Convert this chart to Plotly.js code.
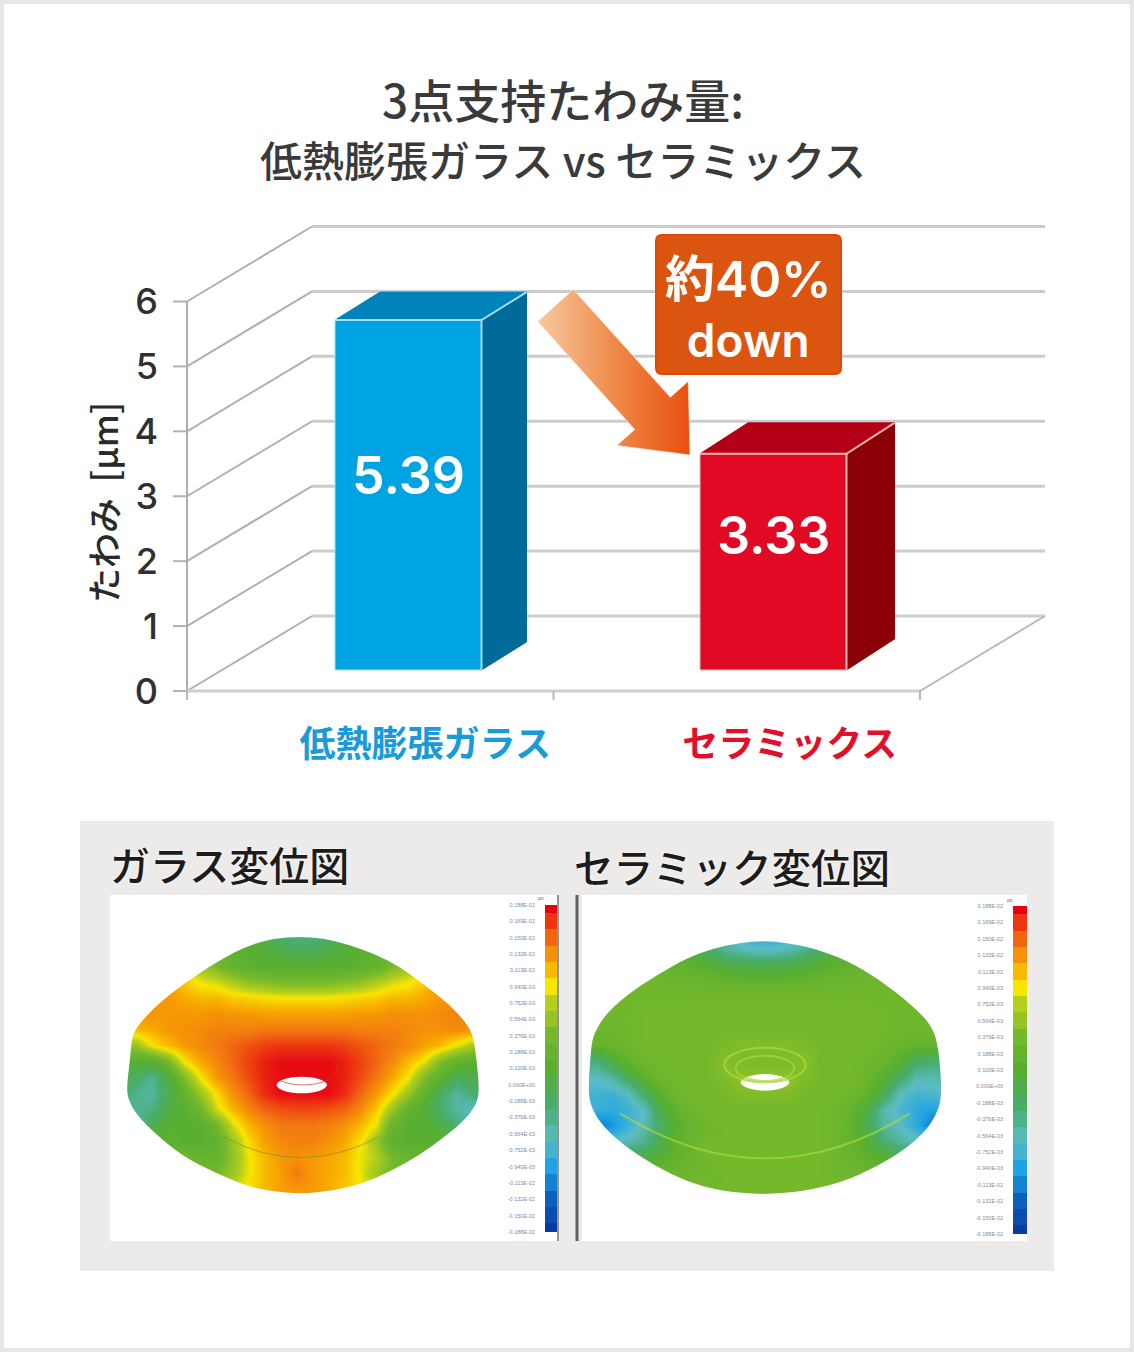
<!DOCTYPE html>
<html><head><meta charset="utf-8">
<script src="https://cdn.plot.ly/plotly-3.0.1.min.js"></script>
<style>html,body{margin:0;padding:0;background:#fff}#chart{width:1134px;height:1352px}</style>
</head><body><div id="chart"></div>
<script>
// ---------- chart data ----------
const titleLines = ['3点支持たわみ量:', '低熱膨張ガラス vs セラミックス'];
const categories = ['低熱膨張ガラス', 'セラミックス'];
const deflection = [5.39, 3.33];
const valueLabels = ['5.39', '3.33'];
const valueTicks = [0, 1, 2, 3, 4, 5, 6];
const yAxisTitle = 'たわみ\u00a0\u00a0[μm]';
const calloutText = '<span style="font-size:50px">約40%</span><br>down';
const mapTitles = ['ガラス変位図', 'セラミック変位図'];

// colour-key steps and their tiny labels (top to bottom)
const keySteps = [100,95,90,85,80,75,70,65,60,55,50,45,40,35,30,25,20,15,10,5,0];
const keyLabels = ['0.188E-02','0.169E-02','0.150E-02','0.132E-02','0.113E-02','0.940E-03','0.752E-03','0.564E-03','0.376E-03','0.188E-03','0.100E-03','0.000E+00','-0.188E-03','-0.376E-03','-0.564E-03','-0.752E-03','-0.940E-03','-0.113E-02','-0.132E-02','-0.150E-02','-0.188E-02'];

// displacement maps on a regular grid
const glassGridX = [120,168,216,264,312,360,408,456,504,552,600,648,696,744,792,840,888,936,984,1032,1080,1128,1176,1224];
const ceramicGridX = [60,108,156,204,252,300,348,396,444,492,540,588,636,684,732,780,828,876,924,972,1020,1068,1116,1164];
const mapGridY = [340,388,436,484,532,580,628,676,724,772,820,868,916,964,1012,1060,1108,1156];
const glassMap = [
[60,60,60,60,60,58,55,52,50,45,38,34,34,38,45,50,52,55,58,60,60,60,60,60],
[70,70,70,70,70,62,56,52,50,48,45,42,42,45,48,50,52,56,62,70,70,70,70,70],
[80,80,80,80,72,66,60,54,52,50,50,50,50,50,50,52,54,60,66,72,80,80,80,80],
[84,84,84,82,78,74,72,68,64,62,60,60,60,60,62,64,68,72,74,78,84,84,84,84],
[85,85,85,84,82,80,80,78,77,76,75,75,75,75,76,77,78,80,80,82,84,85,85,85],
[85,85,84,84,84,84,85,84,84,83,83,83,83,83,83,84,84,85,85,85,86,87,87,87],
[80,80,82,84,85,86,87,87,87,88,88,88,88,88,88,87,87,87,86,85,85,86,85,80],
[64,66,75,80,84,86,88,90,92,94,95,95,95,95,94,92,90,88,86,83,80,74,68,66],
[52,50,50,60,75,82,86,90,94,97,99,99,99,99,97,94,90,86,80,74,62,55,52,52],
[46,40,34,46,62,75,84,88,93,97,99,99,99,99,97,93,88,82,75,62,52,42,44,46],
[40,34,32,42,54,66,76,85,90,96,99,99,99,99,96,90,84,76,66,54,40,32,38,42],
[28,34,36,46,50,58,72,80,86,90,92,93,93,92,90,86,78,66,54,48,38,32,28,28],
[28,30,44,50,50,50,58,72,80,85,88,88,88,87,85,80,74,56,50,50,46,38,30,28],
[50,50,50,52,50,50,52,66,76,83,86,87,87,85,82,76,66,52,50,50,50,50,50,50],
[55,55,55,56,58,55,55,64,74,80,84,85,84,82,80,74,70,60,56,55,55,55,55,55],
[60,60,60,60,60,60,60,66,74,80,83,88,84,82,80,74,66,60,60,60,60,60,60,60],
[70,70,70,70,70,70,70,72,76,80,83,84,84,82,78,76,72,70,70,70,70,70,70,70],
[70,70,70,70,70,70,70,72,76,80,83,84,84,82,78,76,72,70,70,70,70,70,70,70]];
const ceramicMap = [
[50,50,50,50,50,48,45,42,36,30,24,21,21,24,30,36,42,45,48,50,50,50,50,50],
[55,55,55,55,55,52,50,46,40,34,30,28,28,30,34,40,46,50,52,55,55,55,55,55],
[58,58,58,58,58,56,54,52,50,47,45,44,44,45,47,50,52,54,56,58,58,58,58,58],
[58,58,58,58,58,58,57,57,56,55,54,54,54,54,55,56,57,57,58,58,58,58,58,58],
[58,58,58,59,59,59,59,59,59,59,59,59,59,59,59,59,59,59,59,59,58,58,58,58],
[58,58,59,59,60,60,60,60,60,60,60,60,60,60,60,60,60,60,60,59,59,58,58,58],
[58,58,58,59,60,60,60,60,60,60,60,60,60,60,60,60,60,60,60,59,58,58,58,58],
[56,54,56,58,60,60,60,60,60,61,62,62,62,62,61,60,60,60,60,58,56,54,54,54],
[36,36,46,54,58,60,60,60,60,63,61,61,61,61,63,60,60,60,58,56,50,40,38,38],
[30,28,32,42,52,58,60,60,60,62,64,64,64,64,62,60,60,60,56,50,40,30,30,32],
[26,25,24,28,40,52,58,60,60,60,62,62,62,62,60,60,60,58,54,42,28,25,26,28],
[24,24,22,24,28,44,54,58,60,60,60,60,60,60,60,60,58,54,44,30,26,22,20,24],
[12,12,18,24,30,40,50,56,58,60,60,60,60,60,60,60,58,52,42,32,28,22,14,12],
[30,30,28,30,34,44,52,56,60,60,60,60,60,60,60,60,58,54,48,38,32,30,30,30],
[46,46,46,46,46,50,54,56,60,60,60,60,60,60,60,60,58,56,52,50,46,46,46,46],
[56,56,56,56,56,56,57,58,58,60,60,60,60,60,60,60,58,58,57,56,56,56,56,56],
[60,60,60,60,60,60,60,60,60,60,60,60,60,60,60,60,60,60,60,60,60,60,60,60],
[60,60,60,60,60,60,60,60,60,60,60,60,60,60,60,60,60,60,60,60,60,60,60,60]];
// outlines of the discs and their holes, same grid units
const glassOutlineX = [660,580,500,420,350,280,220,175,156,150,140,145,170,230,310,400,490,560,660,760,850,930,1020,1100,1160,1190,1198,1190,1180,1160,1110,1040,960,880,800,730];
const glassOutlineY = [350,355,378,420,465,515,565,615,650,720,800,840,885,945,1010,1055,1095,1112,1122,1112,1090,1055,1005,945,895,850,810,720,650,610,555,500,440,400,372,355];
const glassHoleX = [583,610,665,720,748,720,665,610];
const glassHoleY = [795,776,768,776,795,814,822,814];
const ceramicOutlineX = [610,540,460,380,290,200,130,98,92,85,90,125,190,280,380,480,610,740,850,950,1040,1105,1140,1145,1135,1115,1050,960,860,760,680];
const ceramicOutlineY = [362,368,385,415,465,525,590,650,700,800,855,915,975,1035,1085,1112,1125,1112,1085,1040,985,925,860,800,680,615,550,480,420,385,368];
const ceramicHoleX = [535,562,615,668,695,668,615,562];
const ceramicHoleY = [787,768,760,768,787,806,814,806];

// ---------- styles ----------
const W = 1134, H = 1352;
const JP = '"Noto Sans CJK JP","Noto Sans",sans-serif';
const LAT = 'Inter,"Liberation Sans",Arial,sans-serif';
const barFront = ['#00a3e2', '#e10a25'];
const barTop = ['#0082ba', '#b30017'];
const barSide = ['#006b98', '#8a0006'];
const barEdge = ['#a8dcf2', '#f3b5ae'];
const rainbow = [[0,'#0a3a9c'],[0.1,'#0a60bc'],[0.2,'#1ea4e4'],[0.28,'#5cbcc4'],[0.38,'#48ad70'],[0.5,'#58af30'],[0.6,'#74b82c'],[0.7,'#b5cf1c'],[0.75,'#f8e600'],[0.82,'#f8a800'],[0.88,'#f27a10'],[0.94,'#ee4010'],[1,'#e60012']];

// ---------- oblique projection of the main chart ----------
const plotL = 173, plotR = 1055, plotT = 216, plotB = 700;
const x0Px = 187, x1Px = 920, y0Px = 691, y6Px = 301.5;
const unitX = (x1Px - x0Px) / 2, unitY = (y0Px - y6Px) / 6;
const dataX = p => (p - x0Px) / unitX - 0.5;
const dataY = p => (y0Px - p) / unitY;
const wallDX = 125 / unitX, wallDY = 75 / unitY;
const barShift = [38 / unitX, 36.5 / unitX], barWidth = 146.5 / unitX, barBase = 21 / unitY;
const topDX = [45 / unitX, 48 / unitX], topDY = [28 / unitY, 31 / unitY];
const catPos = categories.map((_, i) => i);

const fx = v => v / W, fy = v => 1 - v / H;
const traces = [];
const shapes = [];
const annotations = [];

function lineShape(xs, ys, color, width) {
  shapes.push({type:'path', xref:'x', yref:'y', layer:'below',
    path:'M' + xs.map((x, i) => x + ' ' + ys[i]).join(' L '),
    line:{color, width}, fillcolor:'rgba(0,0,0,0)'});
}
function paperRect(l, t, r, b, fill, layer) {
  shapes.push({type:'rect', xref:'paper', yref:'paper', x0:fx(l), x1:fx(r), y0:fy(b), y1:fy(t),
    fillcolor:fill, line:{width:0}, layer:layer || 'below'});
}
function paperLine(x, t, b, color, width) {
  shapes.push({type:'line', xref:'paper', yref:'paper', x0:fx(x), x1:fx(x), y0:fy(b), y1:fy(t),
    line:{color, width}, layer:'above'});
}

// page frame and lower panel
shapes.push({type:'rect', xref:'paper', yref:'paper', x0:fx(2), x1:fx(1132), y0:fy(1350), y1:fy(2),
  fillcolor:'rgba(0,0,0,0)', line:{color:'#e6e6e6', width:4}, layer:'below'});
paperRect(80, 821, 1054, 1271, '#ecebe9');
paperRect(110, 895, 557, 1241, '#ffffff');
paperRect(582, 895, 1027, 1241, '#ffffff');

// walls, grid and floor
valueTicks.forEach(v => {
  lineShape([dataX(plotL), -0.5], [v, v], '#b3b3b3', 2);
  lineShape([-0.5, -0.5 + wallDX], [v, v + wallDY], '#b0b0b0', 2);
  lineShape([-0.5 + wallDX, 1.5 + wallDX], [v + wallDY, v + wallDY], '#cccccc', 3);
});
lineShape([-0.5, -0.5], [dataY(plotB), 6], '#adadad', 2);
lineShape([-0.5, 1.5], [0, 0], '#cfcfcf', 3);
lineShape([1.5, 1.5 + wallDX], [0, wallDY], '#b8b8b8', 2);
[-0.5, 0.5, 1.5].forEach(x => lineShape([x, x], [0, dataY(plotB)], '#b8b8b8', 2));

// front faces of the bars, through the library's bar scale
traces.push({type:'bar', x:catPos.map((c, i) => c + barShift[i]), y:deflection, base:barBase, width:barWidth,
  marker:{color:barFront, line:{color:barEdge, width:1}}, hoverinfo:'skip', showlegend:false});

// top and side faces of the bars
deflection.forEach((v, i) => {
  const l = catPos[i] + barShift[i] - barWidth / 2, r = l + barWidth;
  const b = barBase, t = barBase + v, dx = topDX[i], dy = topDY[i];
  traces.push({type:'scatter', mode:'lines', x:[l, l + dx, r + dx, r, l], y:[t, t + dy, t + dy, t, t],
    fill:'toself', fillcolor:barTop[i], line:{color:barTop[i], width:1}, hoverinfo:'skip', showlegend:false});
  traces.push({type:'scatter', mode:'lines', x:[r, r + dx, r + dx, r, r], y:[t, t + dy, b + dy, b, t],
    fill:'toself', fillcolor:barSide[i], line:{color:barSide[i], width:1}, hoverinfo:'skip', showlegend:false});
  traces.push({type:'scatter', mode:'lines', x:[l, r, r + dx], y:[t, t, t + dy],
    line:{color:barEdge[i], width:2}, hoverinfo:'skip', showlegend:false});
  traces.push({type:'scatter', mode:'lines', x:[r, r], y:[t, b],
    line:{color:barEdge[i], width:2}, hoverinfo:'skip', showlegend:false});
});

// arrow from the first bar to the second
(function () {
  const tail = [555.5, 305.5], tip = [690, 455];
  const len = Math.hypot(tip[0] - tail[0], tip[1] - tail[1]);
  const ux = (tip[0] - tail[0]) / len, uy = (tip[1] - tail[1]) / len;
  const nx = uy, ny = -ux;
  const shaft = 24, head = 48, headLen = 56;
  const nb = [tip[0] - ux * headLen, tip[1] - uy * headLen];
  const pts = [
    [tail[0] + nx * shaft, tail[1] + ny * shaft],
    [nb[0] + nx * shaft, nb[1] + ny * shaft],
    [nb[0] + nx * head, nb[1] + ny * head],
    tip,
    [nb[0] - nx * head, nb[1] - ny * head],
    [nb[0] - nx * shaft, nb[1] - ny * shaft],
    [tail[0] - nx * shaft, tail[1] - ny * shaft],
    [tail[0] + nx * shaft, tail[1] + ny * shaft]];
  traces.push({type:'scatter', mode:'lines', x:pts.map(p => dataX(p[0])), y:pts.map(p => dataY(p[1])),
    fill:'toself', line:{color:'rgba(255,240,230,0.6)', width:1},
    fillgradient:{type:'horizontal', colorscale:[[0,'#f8c9a0'],[0.5,'#ef8a4a'],[1,'#e8500f']]},
    hoverinfo:'skip', showlegend:false});
})();

// callout box
(function () {
  const l = 656, r = 841, t = 235, b = 374, c = 6;
  shapes.push({type:'path', xref:'paper', yref:'paper', layer:'above',
    path:`M ${fx(l + c)} ${fy(t)} L ${fx(r - c)} ${fy(t)} Q ${fx(r)} ${fy(t)} ${fx(r)} ${fy(t + c)} L ${fx(r)} ${fy(b - c)} Q ${fx(r)} ${fy(b)} ${fx(r - c)} ${fy(b)} L ${fx(l + c)} ${fy(b)} Q ${fx(l)} ${fy(b)} ${fx(l)} ${fy(b - c)} L ${fx(l)} ${fy(t + c)} Q ${fx(l)} ${fy(t)} ${fx(l + c)} ${fy(t)} Z`,
    fillcolor:'#dc5510', line:{color:'#e04800', width:2}});
})();

function textAt(text, x, y, font, opt) {
  annotations.push(Object.assign({text, xref:'paper', yref:'paper', x:fx(x), y:fy(y), showarrow:false,
    xanchor:'center', yanchor:'middle', font}, opt || {}));
}
textAt(calloutText, 748, 309, {size:46, color:'#ffffff', family:LAT + ',' + JP, weight:600});
textAt(valueLabels[0], 408, 475, {size:52, color:'#ffffff', family:LAT, weight:600});
textAt(valueLabels[1], 773, 535, {size:52, color:'#ffffff', family:LAT, weight:600});
textAt(yAxisTitle, 102, 503, {size:35, color:'#2a2a2a', family:JP, weight:500}, {textangle:-90});
textAt(mapTitles[0], 108, 864, {size:40, color:'#1c1c1c', family:JP, weight:500, shadow:'0 0 3px #ffffff'}, {xanchor:'left'});
textAt(mapTitles[1], 572, 865, {size:39.5, color:'#1c1c1c', family:JP, weight:500, shadow:'0 0 3px #ffffff'}, {xanchor:'left'});
textAt('μm', 541, 898, {size:4, color:'#556', family:LAT});
textAt('μm', 1010, 900, {size:4, color:'#556', family:LAT});

// displacement maps
function smoothLoop(a, b) {
  const n = a.length, mid = i => [(a[i] + a[(i + 1) % n]) / 2, (b[i] + b[(i + 1) % n]) / 2];
  let d = 'M ' + mid(n - 1).join(' ');
  for (let i = 0; i < n; i++) d += ` Q ${a[i]} ${b[i]} ${mid(i).join(' ')}`;
  return d + ' Z';
}
function addMap(ax, gridX, gridY, z, ox, oy, hx, hy, rangeX, rangeY) {
  traces.push({type:'heatmap', x:gridX, y:gridY, z, xaxis:'x' + ax, yaxis:'y' + ax, zsmooth:'best',
    zmin:0, zmax:100, colorscale:rainbow, showscale:false, hoverinfo:'skip'});
  shapes.push({type:'path', xref:'x' + ax, yref:'y' + ax, layer:'above', fillrule:'evenodd', fillcolor:'#ffffff', line:{width:0},
    path:`M ${rangeX[0]} ${rangeY[0]} L ${rangeX[1]} ${rangeY[0]} L ${rangeX[1]} ${rangeY[1]} L ${rangeX[0]} ${rangeY[1]} Z ` + smoothLoop(ox, oy) + ' ' + smoothLoop(hx, hy)});
}
const glassRangeX = [90, 1260], ceramicRangeX = [66, 1230], mapRangeY = [1263, 225];
addMap(2, glassGridX, mapGridY, glassMap, glassOutlineX, glassOutlineY, glassHoleX, glassHoleY, glassRangeX, mapRangeY);
addMap(3, ceramicGridX, mapGridY, ceramicMap, ceramicOutlineX, ceramicOutlineY, ceramicHoleX, ceramicHoleY, ceramicRangeX, mapRangeY);

function ring(ax, cx, cy, rx, ry, color, width) {
  shapes.push({type:'circle', xref:'x' + ax, yref:'y' + ax, x0:cx - rx, x1:cx + rx, y0:cy - ry, y1:cy + ry,
    line:{color, width}, layer:'above'});
}
function arc(ax, x0, y0, cx, cy, x1, y1, color, width) {
  shapes.push({type:'path', xref:'x' + ax, yref:'y' + ax, layer:'above', line:{color, width},
    path:`M ${x0} ${y0} Q ${cx} ${cy} ${x1} ${y1}`});
}
ring(2, 670, 745, 102, 50, 'rgba(190,60,30,0.7)', 1);
arc(2, 430, 950, 660, 1075, 900, 950, 'rgba(120,140,60,0.6)', 1);
ring(3, 615, 735, 122, 52, 'rgba(170,215,60,0.8)', 2);
ring(3, 615, 745, 88, 38, 'rgba(170,215,60,0.7)', 2);
arc(3, 180, 880, 615, 1150, 1050, 880, 'rgba(170,215,60,0.7)', 2);

// colour keys
function addKey(ax) {
  traces.push({type:'heatmap', x:['key'], y:keySteps.map((_, i) => i), z:keySteps.map(v => [v]),
    xaxis:'x' + ax, yaxis:'y' + ax, zmin:0, zmax:100, colorscale:rainbow, showscale:false, hoverinfo:'skip'});
}
addKey(4);
addKey(5);
const hidden = {visible:false, fixedrange:true};
const keyY = side => ({anchor:'x' + side, range:[20, 0], tickmode:'array', tickvals:keySteps.map((_, i) => i), ticktext:keyLabels,
  showgrid:false, zeroline:false, showline:false, ticks:'', ticklabelstandoff:9, tickfont:{size:5.5, color:'#7f8c9c', family:'"Liberation Sans",Arial,sans-serif'}});
paperLine(558, 895, 1241, '#777777', 1.5);
paperLine(577, 895, 1241, '#5f5f5f', 3);

const layout = {
  width:W, height:H, margin:{l:0, r:0, t:0, b:0}, showlegend:false, hovermode:false,
  paper_bgcolor:'#ffffff', plot_bgcolor:'rgba(0,0,0,0)', barmode:'overlay',
  title:{text:`<span style="font-size:46px">${titleLines[0]}</span><br><span style="font-size:42px">${titleLines[1]}</span>`,
    x:563 / W, xanchor:'center', y:fy(118), yanchor:'middle', font:{size:45, color:'#3a3a3a', family:JP, weight:500}},
  xaxis:{domain:[fx(plotL), fx(plotR)], range:[dataX(plotL), dataX(plotR)], anchor:'y', showgrid:false, zeroline:false, showline:false, ticks:'',
    tickmode:'array', tickvals:[55 / unitX, 1 + 53 / unitX],
    ticktext:categories.map((c, i) => `<span style="color:${['#1a9bd8', '#e0102a'][i]}">${c}</span>`),
    ticklabelstandoff:20, tickfont:{size:36, family:JP, weight:700}},
  yaxis:{domain:[fy(plotB), fy(plotT)], range:[dataY(plotB), dataY(plotT)], anchor:'x', showgrid:false, zeroline:false, showline:false, ticks:'',
    tickmode:'array', tickvals:valueTicks, ticktext:valueTicks.map(String), ticklabelstandoff:14,
    tickfont:{size:36, color:'#303030', family:LAT, weight:500}},
  xaxis2:Object.assign({domain:[fx(110), fx(500)], range:glassRangeX, anchor:'y2'}, hidden),
  yaxis2:Object.assign({domain:[fy(1241), fy(895)], range:mapRangeY, anchor:'x2'}, hidden),
  xaxis3:Object.assign({domain:[fx(582), fx(970)], range:ceramicRangeX, anchor:'y3'}, hidden),
  yaxis3:Object.assign({domain:[fy(1241), fy(895)], range:mapRangeY, anchor:'x3'}, hidden),
  xaxis4:Object.assign({domain:[fx(545), fx(557)], anchor:'y4'}, hidden),
  yaxis4:Object.assign({domain:[fy(1232), fy(905)]}, keyY(4)),
  xaxis5:Object.assign({domain:[fx(1013), fx(1027)], anchor:'y5'}, hidden),
  yaxis5:Object.assign({domain:[fy(1234), fy(906)]}, keyY(5)),
  shapes, annotations
};
Plotly.newPlot('chart', traces, layout, {displayModeBar:false, staticPlot:true});
</script></body></html>
